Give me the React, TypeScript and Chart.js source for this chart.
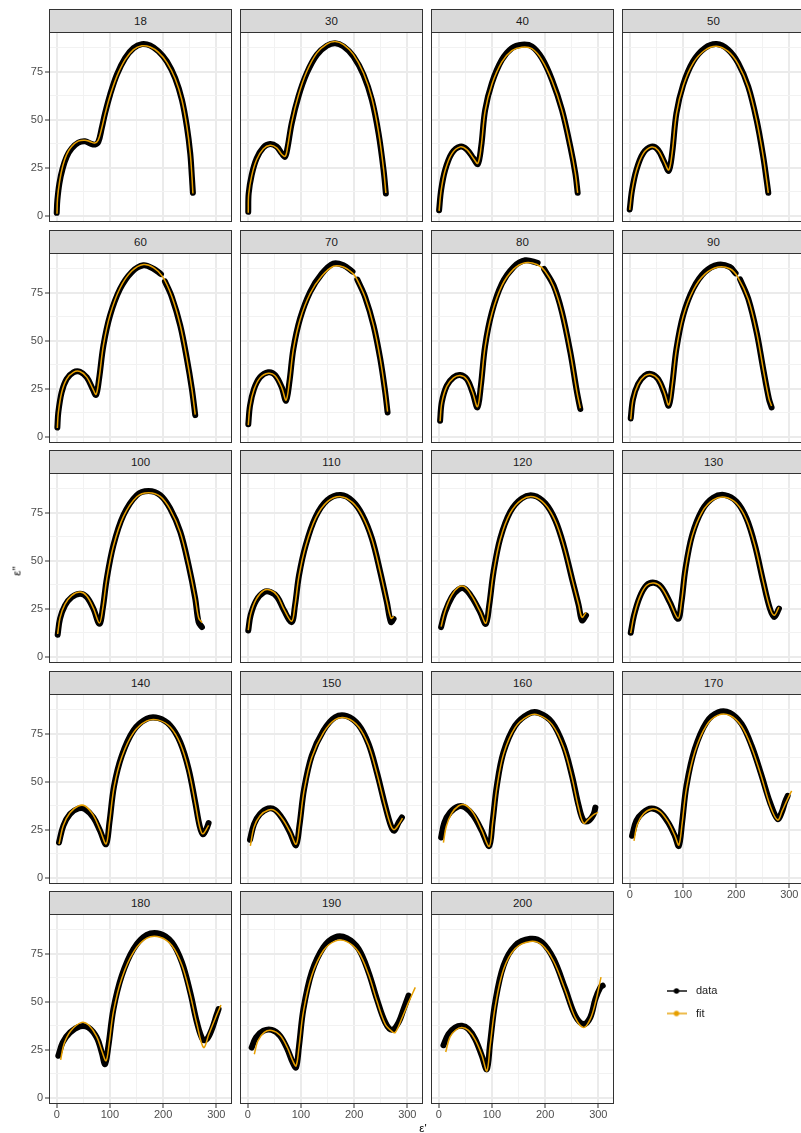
import React, { useEffect, useRef } from "react";
import { Chart, registerables } from "chart.js";

Chart.register(...registerables);

const FONT = '"Liberation Sans", Arial, Helvetica, sans-serif';

// ---------- axis set-up ----------
const X_MIN = -14.5;
const X_MAX = 329.5;
const Y_MIN = -3.3;
const Y_MAX = 95.6;
const X_BREAKS = [0, 50, 100, 150, 200, 250, 300];
const X_MAJOR = [0, 100, 200, 300];
const Y_BREAKS = [0, 12.5, 25, 37.5, 50, 62.5, 75, 87.5];
const Y_MAJOR = [0, 25, 50, 75];
const X_TITLE = "ε'";
const Y_TITLE = "ε''";

const SERIES = ["data", "fit"];
const SERIES_COLORS = ["#000000", "#E69F00"];

const PANEL_LABELS = ["18", "30", "40", "50", "60", "70", "80", "90", "100", "110", "120", "130", "140", "150", "160", "170", "180", "190", "200"];

// ---------- values: [ε', ε''] ----------
type P = [number, number] | null;

const DATA_18: P[] = [[0, 1.5], [1.2, 8], [5, 16.8], [11.2, 24.6], [18.7, 30.7], [28.2, 35], [40.7, 38], [53.3, 38.7], [62.7, 37.6], [72.1, 37], [78.4, 38.5], [84.6, 45.5], [90.9, 53.3], [100.3, 62.9], [112.9, 73.3], [128.6, 82], [144.3, 87.2], [160, 89.3], [175.7, 88.6], [191.4, 85.5], [207, 80.3], [222.7, 71.6], [235.3, 60.3], [244.7, 46.3], [251, 32.4], [254.1, 20.2], [256, 11.9]];
const FIT_18: P[] = [[0.5, 1], [1.5, 9], [5.5, 18], [11.5, 26], [19, 32], [28, 36], [40.5, 38.8], [53, 39.3], [63, 38.5], [71.5, 37.8], [78, 39.3], [84.6, 45.5], [91, 53], [100.3, 62.4], [113, 72.5], [128.6, 81.2], [144.3, 86.4], [160, 88.4], [175.7, 87.8], [191.4, 85], [207, 79.8], [222.7, 71.3], [235.3, 60.2], [244.7, 46.3], [251, 32.4], [254.3, 20], [256, 11.5]];

const DATA_30: P[] = [[1, 2], [1.8, 11.5], [7.4, 21.1], [16.8, 29.8], [29.4, 35.5], [42, 37.3], [54.5, 35.9], [63.9, 32.4], [70.2, 30.7], [74.6, 35], [82.7, 48.1], [95.3, 62], [111, 74.2], [129.8, 83.7], [148.7, 88.4], [164.3, 89.8], [180, 88.1], [198.9, 82.9], [217.7, 73.3], [233.4, 60.2], [245.9, 42.9], [255.4, 23.7], [259.7, 11.5]];
const FIT_30: P[] = [[1, 1.5], [1.8, 11], [7.4, 20.6], [16.8, 29.2], [29.4, 34.8], [42, 36.6], [54.5, 35.3], [63.9, 32], [70.5, 30.9], [74.8, 35.5], [82.7, 48.6], [95.3, 62.6], [111, 75], [129.8, 84.6], [148.7, 89.3], [164.3, 90.6], [180, 89], [198.9, 83.8], [217.7, 74.1], [233.4, 61], [245.9, 43.6], [255.4, 24.2], [259.7, 11.8]];

const DATA_40: P[] = [[0.7, 2.8], [4.5, 13.3], [12, 23.7], [24.5, 32.4], [40.2, 35.9], [52.8, 34.5], [65.3, 29.8], [73.5, 26.9], [79.8, 35.9], [87.3, 55], [99.9, 69], [118.7, 81.1], [137.5, 87.2], [156.4, 89], [175.2, 88.1], [194, 82], [212.9, 70.7], [231.7, 55], [247.4, 35.9], [256.8, 22], [261.2, 11.9]];
const FIT_40: P[] = [[0.7, 2.5], [4.5, 13], [12, 23.5], [24.5, 32.2], [40.2, 35.8], [52.8, 34.4], [65.3, 29.8], [73.5, 27.2], [79.8, 36], [87.3, 54.6], [99.9, 68.3], [118.7, 80], [137.5, 85.9], [156.4, 87.7], [175.2, 86.9], [194, 81], [212.9, 70.2], [231.7, 54.8], [247.4, 35.9], [256.8, 22], [261.2, 11.9]];

const DATA_50: P[] = [[0, 3.2], [4.4, 13.3], [12.5, 23.7], [25.1, 32.4], [40.8, 35.9], [53.3, 34.2], [64.6, 28.1], [73.4, 23.4], [79.7, 32.4], [87.8, 53.3], [100.4, 68.1], [119.2, 80.3], [141.2, 87.2], [163.2, 89.3], [185.1, 86.4], [204, 79.4], [222.8, 67.2], [238.5, 49.8], [251, 30.7], [257.3, 18.5], [260.5, 11.9]];
const FIT_50: P[] = [[0, 3], [4.4, 13], [12.5, 23.5], [25.1, 32.2], [40.8, 35.7], [53.3, 34.1], [64.6, 28.2], [73.4, 23.8], [79.7, 32.6], [87.8, 53], [100.4, 67.5], [119.2, 79.4], [141.2, 86.1], [163.2, 88.2], [185.1, 85.5], [204, 78.8], [222.8, 66.8], [238.5, 49.6], [251, 30.7], [257.3, 18.5], [260.5, 11.9]];

const DATA_60: P[] = [[1.2, 4.8], [3, 12.6], [9.3, 23.1], [18.7, 30], [31.3, 33.5], [43.8, 33.8], [56.4, 30.9], [67.7, 24.8], [74, 21.7], [79.6, 30], [87.8, 47.4], [100.3, 63.1], [119.2, 77], [141.1, 85.7], [163.1, 89.2], [181.9, 87.4], [196, 84.6], null, [203.5, 80.8], [216.5, 72.6], [232.2, 57.9], [244.7, 40.5], [254.1, 24.8], [260.4, 11.2]];
const FIT_60: P[] = [[1.2, 4.5], [3, 12.4], [9.3, 23], [18.7, 30], [31.3, 33.5], [43.8, 33.9], [56.4, 31], [67.7, 25], [74, 22], [79.6, 30.2], [87.8, 47.6], [100.3, 63.4], [119.2, 77.4], [141.1, 86.2], [163.1, 89.6], [181.9, 88], [199, 83.3], [216.5, 72.8], [232.2, 58], [244.7, 40.5], [254.1, 24.8], [260.4, 11.5]];

const DATA_70: P[] = [[1.1, 6.5], [4.3, 16.1], [11.8, 24.8], [23.1, 30.9], [38.8, 33.5], [51.4, 32.1], [63.9, 25.7], [72.1, 18.7], [78.3, 28.3], [85.9, 45.7], [98.4, 61.4], [117.3, 75.3], [139.2, 84.8], [161.2, 90.1], [180, 89.2], [197, 85.9], null, [206, 81.8], [220.8, 72.6], [236.5, 57.9], [249.1, 40.5], [258.5, 23.1], [262.9, 12.6]];
const FIT_70: P[] = [[1.1, 6], [4.3, 15.8], [11.8, 24.5], [23.1, 30.6], [38.8, 33], [51.4, 31.7], [63.9, 25.6], [72.1, 19], [78.3, 28.5], [85.9, 45.5], [98.4, 61], [117.3, 74.5], [139.2, 83.6], [161.2, 88.7], [180, 88.3], [197.6, 85], [205.1, 82], [220.8, 72.4], [236.5, 57.8], [249.1, 40.5], [258.5, 23.1], [262.9, 13]];

const DATA_80: P[] = [[2.6, 8.3], [5.7, 17.8], [15.1, 26.5], [27.7, 30.9], [40.2, 32.1], [52.8, 30], [63.5, 23.1], [72.9, 15.2], [79.2, 26.5], [87.3, 47.4], [99.9, 64.8], [118.7, 79.6], [140.7, 88.3], [162.6, 91.8], [186, 90.4], null, [198, 87.3], [216, 78.7], [231.7, 64.8], [247.4, 43.9], [259.9, 23.1], [266.2, 14.4]];
const FIT_80: P[] = [[2.6, 8], [5.7, 17.5], [15.1, 26.2], [27.7, 30.6], [40.2, 31.8], [52.8, 29.8], [63.5, 23.2], [72.9, 15.6], [79.2, 26.6], [87.3, 47], [99.9, 64], [118.7, 78.6], [140.7, 87.2], [162.6, 90.5], [184.6, 89.6], [200.3, 86], [216, 78.2], [231.7, 64.5], [247.4, 43.8], [259.9, 23.1], [266.2, 14.8]];

const DATA_90: P[] = [[1.9, 9.5], [6.2, 19.6], [15.7, 27.4], [28.2, 31.8], [40.8, 32.6], [53.3, 30], [64.6, 23.1], [73.4, 16.1], [79.7, 26.5], [87.8, 45.7], [100.4, 63.1], [119.2, 77], [141.2, 85.7], [166.3, 89.5], [188.3, 88.3], [199, 85], null, [207.5, 81.9], [222.8, 71.8], [238.5, 54.4], [251, 35.2], [261.7, 19.6], [266.7, 15.2]];
const FIT_90: P[] = [[1.9, 9], [6.2, 19.3], [15.7, 27.2], [28.2, 31.6], [40.8, 32.4], [53.3, 30], [64.6, 23.3], [73.4, 16.5], [79.7, 26.6], [87.8, 45.4], [100.4, 62.6], [119.2, 76.2], [141.2, 84.6], [166.3, 88.3], [188.3, 87.4], [203, 83.2], [222.8, 71.5], [238.5, 54.3], [251, 35.2], [261.7, 19.8], [266.7, 16]];

const DATA_100: P[] = [[1.8, 11.4], [6.2, 19.7], [15.6, 26.7], [28.2, 31], [43.9, 32.8], [56.4, 31], [69, 24.9], [80.3, 17.1], [86.5, 24.9], [94.1, 40.6], [106.6, 58], [125.5, 73.7], [150.6, 84.1], [172.5, 86.2], [194.5, 84.1], [213.3, 77.1], [232.2, 65], [247.9, 47.6], [260.4, 30.2], [266.7, 18], [273, 15.4]];
const FIT_100: P[] = [[1.8, 11.8], [6.2, 20.2], [15.6, 27.3], [28.2, 31.8], [43.9, 33.6], [56.4, 31.6], [69, 25.2], [80.3, 17.5], [86.5, 25], [94.1, 40.4], [106.6, 57.6], [125.5, 73], [150.6, 83.2], [172.5, 85.3], [194.5, 83.4], [213.3, 76.6], [232.2, 64.7], [247.9, 47.5], [260.4, 30.5], [267, 20], [273, 17.8]];

const DATA_110: P[] = [[1, 13.6], [5.4, 21.5], [16.1, 29.3], [30.5, 33.6], [43.1, 33.6], [55.6, 31], [68.2, 24.1], [82.6, 18], [88.9, 26.7], [96.4, 42.3], [109, 58], [127.8, 72.8], [149.8, 81.5], [174.9, 84.1], [196.8, 81], [215.7, 73.7], [233.4, 61.5], [249.1, 44.1], [261.6, 28.4], [269.2, 18], [274.2, 19.7]];
const FIT_110: P[] = [[1, 13.8], [5.4, 22], [16.1, 30], [30.5, 34.5], [43.1, 34.6], [55.6, 31.8], [68.2, 24.6], [82.6, 18.4], [88.9, 26.8], [96.4, 42], [109, 57.6], [127.8, 72.2], [149.8, 80.7], [174.9, 83.3], [196.8, 80.3], [215.7, 73.2], [233.4, 61.2], [249.1, 44], [261.6, 28.6], [269.5, 20], [274.5, 21]];

const DATA_120: P[] = [[4.5, 15.4], [12, 23.2], [24.5, 31], [37.1, 35], [48.4, 35.4], [62.2, 31], [77.9, 23.2], [88.6, 17.1], [94.9, 26.7], [103, 44.1], [115.6, 61.5], [134.4, 75.4], [156.4, 82.4], [178.3, 83.8], [200.3, 79.8], [219.1, 71], [234.8, 58], [250.5, 40.6], [263.1, 26.7], [269.4, 18.9], [276.9, 21.5]];
const FIT_120: P[] = [[4.5, 15.6], [12, 23.8], [24.5, 32], [37.1, 36.2], [48.4, 36.4], [62.2, 31.6], [77.9, 23.4], [88.6, 17.4], [94.9, 26.8], [103, 43.8], [115.6, 61], [134.4, 74.8], [156.4, 81.8], [178.3, 83.2], [200.3, 79.2], [219.1, 70.6], [234.8, 57.8], [250.5, 40.6], [263.1, 27], [269.4, 20.5], [276.9, 23]];

const DATA_130: P[] = [[1.9, 12.4], [8.1, 21.5], [18.8, 31], [31.4, 37.1], [45.8, 38.5], [59.6, 36.2], [75.3, 28.4], [91, 19.7], [97.3, 28.4], [104.8, 45.8], [117.3, 63.2], [136.2, 76.3], [156.9, 82.7], [178.9, 84.1], [200.9, 80.6], [219.6, 71.9], [235.4, 58], [251.1, 38.9], [263.6, 25], [271.8, 20.6], [280.5, 25]];
const FIT_130: P[] = [[1.9, 12.2], [8.1, 21.4], [18.8, 31], [31.4, 37], [45.8, 38.3], [59.6, 36], [75.3, 28.4], [91, 20], [97.3, 28.5], [104.8, 45.4], [117.3, 62.6], [136.2, 75.4], [156.9, 81.6], [178.9, 83], [200.9, 79.7], [219.6, 71.3], [235.4, 57.7], [251.1, 38.9], [263.6, 25.3], [271.8, 21.5], [280.5, 25.8]];

const DATA_140: P[] = [[4.3, 18.3], [12.5, 27], [25, 33.1], [40.7, 36], [53.3, 35.7], [69, 31.3], [81.5, 24.4], [92.8, 17.4], [99.1, 28.7], [107.9, 47.9], [122.3, 63.5], [144.3, 76.6], [169.4, 82.7], [191.4, 83], [213.3, 79.2], [232.2, 70.5], [247.9, 56.6], [260.4, 39.2], [268.6, 27], [274.8, 22.6], [281.1, 25.2], [285.5, 28.4]];
const FIT_140: P[] = [[4.3, 17.5], [12.5, 27.2], [25, 33.8], [40.7, 37.3], [53.3, 37.3], [69, 32.4], [81.5, 24.8], [92.8, 17.6], [99.1, 28.5], [107.9, 47.2], [122.3, 62.8], [144.3, 75.5], [169.4, 81.6], [191.4, 82], [213.3, 78.4], [232.2, 69.8], [247.9, 56], [260.4, 38.7], [268.6, 26.5], [274.8, 22.8], [285.5, 27.2]];

const DATA_150: P[] = [[4.3, 19.7], [11.8, 27.8], [23.1, 33.1], [38.8, 36], [51.4, 35.3], [65.8, 30.5], [79.6, 23.5], [90.9, 16.9], [97.2, 27], [106, 46.1], [120.4, 63.5], [142.4, 76.6], [164.3, 83.5], [186.3, 84.1], [208.3, 79.5], [227.1, 69.6], [242.8, 54.8], [258.5, 37.4], [269.2, 27], [275.4, 24.4], [283.6, 28.7], [289.9, 31.3]];
const FIT_150: P[] = [[5, 16.5], [11.8, 26.3], [23.1, 32.2], [38.8, 35.2], [51.4, 34.8], [65.8, 30.4], [79.6, 23.8], [90.9, 17.4], [97.2, 27], [106, 45.4], [120.4, 62.6], [142.4, 75.5], [164.3, 82.3], [186.3, 83], [208.3, 78.6], [227.1, 68.9], [242.8, 54.3], [258.5, 37], [269.2, 27], [275.4, 25], [283.6, 27.6], [291, 31]];

const DATA_160: P[] = [[4.5, 20.9], [10.7, 28.7], [21.4, 33.9], [37.1, 37.1], [49.7, 36.5], [65.3, 32.2], [81, 24.4], [94.9, 16.5], [101.1, 28.7], [109.3, 47.9], [121.8, 65.3], [143.8, 79.2], [168.9, 85.3], [187.8, 85.8], [212.9, 80.9], [234.8, 68.7], [250.5, 53.1], [263.1, 37.4], [272.5, 29.6], [281.9, 29.6], [291.3, 33.1], [294.5, 36.5]];
const FIT_160: P[] = [[8.9, 18.3], [14, 26.5], [24, 33.3], [37.1, 37.3], [49.7, 37.8], [65.3, 33.5], [81, 24.6], [94.9, 16.3], [101.1, 28], [109.3, 46.8], [121.8, 64.3], [143.8, 78.2], [168.9, 84.2], [187.8, 84.6], [212.9, 79.8], [234.8, 67.8], [250.5, 52.2], [263.1, 36], [272.5, 28.3], [281.9, 30.5], [291.3, 32.8], [299.5, 34]];

const DATA_170: P[] = [[4.4, 21.8], [12.5, 29.6], [25.1, 33.9], [40.8, 36], [56.5, 34.3], [72.2, 28.7], [84.7, 21.8], [92.3, 16.5], [98.5, 28.7], [106.7, 47.9], [122.4, 67], [144.3, 80.9], [166.3, 86.1], [188.3, 85.8], [210.2, 80], [229.1, 68.7], [247.9, 53.1], [263.6, 39.2], [278, 30.5], [285.6, 33.9], [291.8, 39.2], [296.9, 42.6]];
const FIT_170: P[] = [[8.1, 19.2], [14, 27.5], [26, 33.3], [42, 35.8], [57, 34.4], [72.2, 29], [84.7, 22], [92.3, 17], [98.5, 28.2], [106.7, 46.5], [122.4, 65.5], [144.3, 79.3], [166.3, 84.6], [188.3, 84.4], [210.2, 78.8], [229.1, 67.8], [247.9, 52.3], [263.6, 37.8], [278, 30], [287, 35], [296, 40.5], [304.4, 45.2]];

const DATA_180: P[] = [[3, 21.8], [11.2, 28.7], [25, 33.9], [43.8, 37.1], [59.5, 36.5], [75.2, 31.3], [84.7, 23.5], [90.9, 17.4], [97.2, 27], [106.6, 46.1], [122.3, 63.5], [144.3, 77.4], [169.4, 84.7], [194.5, 85.3], [216.5, 80.9], [235.3, 70.5], [251, 54.8], [263.6, 39.2], [274.8, 30.1], [282.4, 30.5], [291.8, 35.7], [300, 42.6], [304.3, 46.1]];
const FIT_180: P[] = [[7.4, 19.7], [14, 28.2], [27, 35], [47, 39.2], [60, 37.8], [75.2, 31.8], [85, 24.2], [92.8, 19.2], [98.5, 28], [106.6, 44.8], [122.3, 62.2], [144.3, 75.8], [169.4, 83], [194.5, 83.5], [216.5, 79.2], [235.3, 69], [251, 53.6], [263.6, 38.2], [276.1, 26.1], [286, 33], [297, 40.6], [308.7, 48.2]];

const DATA_190: P[] = [[7.4, 26.1], [15.6, 31.3], [29.4, 34.8], [45.1, 35.3], [60.8, 32.2], [74.6, 25.2], [84.6, 18.3], [90.9, 15.7], [96.5, 27], [104.7, 46.1], [120.4, 65.3], [142.4, 78.3], [164.3, 83.5], [186.3, 83], [208.3, 77.4], [227.1, 65.3], [242.8, 51.3], [258.5, 39.2], [271.1, 35.3], [283.6, 39.2], [293.1, 46.1], [302.4, 53.1]];
const FIT_190: P[] = [[12.4, 22.6], [19, 29.5], [31, 34], [45.1, 35], [60.8, 32.5], [74.6, 26], [84.6, 19.2], [90.9, 16.5], [96.5, 26.5], [104.7, 44.8], [120.4, 63.6], [142.4, 76.6], [164.3, 81.5], [186.3, 81.2], [208.3, 75.8], [227.1, 64.2], [242.8, 50.4], [258.5, 38.3], [271.1, 34.5], [277.3, 33.9], [290, 41.5], [303, 50], [315, 57.4]];

const DATA_200: P[] = [[8.9, 27.3], [18.3, 33.1], [30.8, 36.5], [43.4, 37.4], [55.9, 35.7], [68.5, 30.5], [81, 21.8], [90.5, 14.8], [96.7, 28.7], [106.2, 49.6], [121.8, 68.7], [143.8, 79.2], [172.1, 82.7], [194, 80.9], [216, 72.2], [238, 56.6], [256.8, 42.6], [272.5, 38.3], [285, 41.8], [294.5, 51.3], [303.9, 57.4], [308.3, 58.3]];
const FIT_200: P[] = [[13.2, 23.8], [21, 31.5], [32, 35.2], [43.4, 36.5], [55.9, 35], [68.5, 30.2], [81, 22.2], [90.5, 13.9], [96.7, 27.2], [106.2, 47.5], [121.8, 66.7], [143.8, 77.6], [172.1, 81.3], [194, 79.5], [216, 71], [238, 55.8], [256.8, 41.5], [272.5, 36.5], [285, 41], [295, 50], [305.1, 62.7]];

const DATA_SETS: P[][] = [DATA_18, DATA_30, DATA_40, DATA_50, DATA_60, DATA_70, DATA_80, DATA_90, DATA_100, DATA_110, DATA_120, DATA_130, DATA_140, DATA_150, DATA_160, DATA_170, DATA_180, DATA_190, DATA_200];
const FIT_SETS: P[][] = [FIT_18, FIT_30, FIT_40, FIT_50, FIT_60, FIT_70, FIT_80, FIT_90, FIT_100, FIT_110, FIT_120, FIT_130, FIT_140, FIT_150, FIT_160, FIT_170, FIT_180, FIT_190, FIT_200];

// ---------- layout ----------
const COL_LEFT = [49, 240, 431, 622];
const ROW_TOP = [32, 253, 473, 694, 914];
const PW = 183;
const PH = 190;
const STRIP_H = 23;
const AXW = 45;
const AXH = 22;

const toPoints = (arr: P[]) => {
  let lastX = 0;
  return arr.map((p) => {
    if (p) {
      lastX = p[0];
      return { x: p[0], y: p[1] };
    }
    return { x: lastX, y: null };
  });
};

function axis(breaks: number[], majors: number[], min: number, max: number, show: boolean, isX: boolean) {
  const isMajor = (v: any) => majors.includes(v);
  return {
    type: "linear",
    min,
    max,
    bounds: "data",
    afterBuildTicks: (s: any) => {
      s.ticks = breaks.map((v) => ({ value: v }));
    },
    afterFit: (s: any) => {
      if (isX) {
        s.height = AXH;
        s.paddingLeft = 0;
        s.paddingRight = 0;
      } else {
        s.width = AXW;
        s.paddingTop = 0;
        s.paddingBottom = 0;
      }
    },
    border: { display: false },
    grid: {
      color: (c: any) => (isMajor(c.tick && c.tick.value) ? "#EBEBEB" : "#F2F2F2"),
      lineWidth: (c: any) => (isMajor(c.tick && c.tick.value) ? 2 : 1),
      drawTicks: true,
      tickLength: 4,
      tickWidth: 1,
      tickColor: (c: any) => (show && isMajor(c.tick && c.tick.value) ? "#333333" : "rgba(0,0,0,0)"),
    },
    ticks: {
      display: show,
      autoSkip: false,
      maxRotation: 0,
      minRotation: 0,
      padding: isX ? 0 : 2,
      color: "#4D4D4D",
      font: { family: FONT, size: 11 },
      callback: (v: any) => (isMajor(v) ? String(v) : ""),
    },
  };
}

function Panel({ index }: { index: number }) {
  const ref = useRef<HTMLCanvasElement | null>(null);
  const row = Math.floor(index / 4);
  const col = index % 4;
  const showY = col === 0;
  const showX = row === 4 || (row === 3 && col === 3);
  const left = COL_LEFT[col];
  const top = ROW_TOP[row];

  useEffect(() => {
    const canvas = ref.current;
    if (!canvas) return;
    const chart = new Chart(canvas, {
      type: "line",
      data: {
        datasets: [
          {
            label: SERIES[0],
            data: toPoints(DATA_SETS[index]) as any,
            borderColor: SERIES_COLORS[0],
            backgroundColor: SERIES_COLORS[0],
            borderWidth: 6,
            borderCapStyle: "round",
            borderJoinStyle: "round",
            pointRadius: 0,
            tension: 0.35,
            spanGaps: false,
            order: 2,
          },
          {
            label: SERIES[1],
            data: toPoints(FIT_SETS[index]) as any,
            borderColor: SERIES_COLORS[1],
            backgroundColor: SERIES_COLORS[1],
            borderWidth: 1.5,
            pointRadius: 0,
            tension: 0.35,
            order: 1,
          },
        ],
      },
      options: {
        animation: false,
        responsive: false,
        devicePixelRatio: 1,
        events: [],
        layout: { padding: 0 },
        plugins: { legend: { display: false }, tooltip: { enabled: false } },
        scales: {
          x: axis(X_BREAKS, X_MAJOR, X_MIN, X_MAX, showX, true) as any,
          y: axis(Y_BREAKS, Y_MAJOR, Y_MIN, Y_MAX, showY, false) as any,
        },
      } as any,
    });
    return () => chart.destroy();
  }, [index]);

  return (
    <>
      <canvas
        ref={ref}
        width={PW + AXW}
        height={PH + AXH}
        style={{ position: "absolute", left: left - AXW, top, width: PW + AXW, height: PH + AXH }}
      />
      <div
        style={{
          position: "absolute",
          left,
          top,
          width: PW,
          height: PH,
          border: "1px solid #333333",
          boxSizing: "border-box",
          pointerEvents: "none",
        }}
      />
      <div
        style={{
          position: "absolute",
          left,
          top: top - STRIP_H,
          width: PW,
          height: STRIP_H + 1,
          background: "#D9D9D9",
          border: "1px solid #333333",
          boxSizing: "border-box",
          display: "flex",
          alignItems: "center",
          justifyContent: "center",
          fontFamily: FONT,
          fontSize: 11.5,
          color: "#1A1A1A",
        }}
      >
        {PANEL_LABELS[index]}
      </div>
    </>
  );
}

function Legend() {
  const ref = useRef<HTMLCanvasElement | null>(null);
  useEffect(() => {
    const canvas = ref.current;
    if (!canvas) return;
    const mk = (color: string) => {
      const c = document.createElement("canvas");
      c.width = 20;
      c.height = 8;
      const g = c.getContext("2d")!;
      g.strokeStyle = color;
      g.lineWidth = 1.4;
      g.beginPath();
      g.moveTo(0, 4);
      g.lineTo(20, 4);
      g.stroke();
      g.fillStyle = color;
      g.beginPath();
      g.arc(10, 4, 2.7, 0, Math.PI * 2);
      g.fill();
      return c;
    };
    const symbols = SERIES_COLORS.map(mk);
    const chart = new Chart(canvas, {
      type: "line",
      data: {
        datasets: SERIES.map((s, i) => ({
          label: s,
          data: [],
          borderColor: SERIES_COLORS[i],
          backgroundColor: SERIES_COLORS[i],
        })),
      },
      options: {
        animation: false,
        responsive: false,
        devicePixelRatio: 1,
        events: [],
        layout: { padding: 0 },
        scales: { x: { type: "linear", display: false }, y: { display: false } },
        plugins: {
          tooltip: { enabled: false },
          legend: {
            display: true,
            position: "left",
            align: "start",
            maxWidth: 140,
            labels: {
              usePointStyle: true,
              pointStyleWidth: 28,
              padding: 11.5,
              color: "#1A1A1A",
              font: { family: FONT, size: 11 },
              generateLabels: (ch: any) =>
                ch.data.datasets.map((d: any, i: number) => ({
                  text: d.label,
                  pointStyle: symbols[i],
                  fillStyle: SERIES_COLORS[i],
                  strokeStyle: SERIES_COLORS[i],
                  lineWidth: 0,
                  hidden: false,
                  datasetIndex: i,
                  fontColor: "#1A1A1A",
                })),
            },
          },
        },
      } as any,
    });
    return () => chart.destroy();
  }, []);
  return (
    <canvas
      ref={ref}
      width={140}
      height={70}
      style={{ position: "absolute", left: 651, top: 974, width: 140, height: 70 }}
    />
  );
}

export default function App() {
  return (
    <div
      style={{
        position: "absolute",
        left: 0,
        top: 0,
        width: 801,
        height: 1133,
        overflow: "hidden",
        background: "#FFFFFF",
      }}
    >
      {PANEL_LABELS.map((_, i) => (
        <Panel key={i} index={i} />
      ))}
      <Legend />
      <div
        style={{
          position: "absolute",
          left: 17,
          top: 571,
          transform: "translate(-50%, -50%) rotate(-90deg)",
          fontFamily: FONT,
          fontSize: 11.5,
          color: "#000000",
          whiteSpace: "nowrap",
          lineHeight: "13px",
        }}
      >
        {Y_TITLE}
      </div>
      <div
        style={{
          position: "absolute",
          left: 423,
          top: 1122,
          transform: "translateX(-50%)",
          fontFamily: FONT,
          fontSize: 11.5,
          color: "#000000",
          whiteSpace: "nowrap",
          lineHeight: "13px",
        }}
      >
        {X_TITLE}
      </div>
    </div>
  );
}
